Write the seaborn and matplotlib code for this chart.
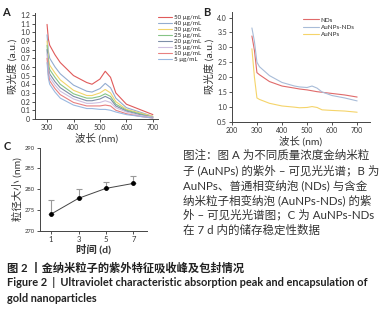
import matplotlib
matplotlib.use("Agg")
import matplotlib.pyplot as plt
import seaborn as sns
import pandas as pd

sns.set_theme(style="ticks")
plt.rcParams['font.family'] = ['Lato', 'Noto Sans CJK SC', 'DejaVu Sans']
plt.rcParams['axes.unicode_minus'] = False

# panel A: UV-vis of AuNPs at different concentrations
wl_a = [300, 305, 310, 330, 350, 400, 450, 470, 500, 520, 540, 560, 600, 650, 700]
conc_labels = ["50 μg/mL", "40 μg/mL", "30 μg/mL", "25 μg/mL",
               "20 μg/mL", "15 μg/mL", "10 μg/mL", "5 μg/mL"]
abs_50 = [1.09, 0.92, 0.85, 0.74, 0.65, 0.50, 0.42, 0.40, 0.46, 0.55, 0.48, 0.30, 0.17, 0.11, 0.05]
abs_40 = [0.97, 0.78, 0.70, 0.60, 0.52, 0.39, 0.32, 0.31, 0.35, 0.41, 0.36, 0.24, 0.13, 0.08, 0.03]
abs_30 = [0.90, 0.70, 0.62, 0.53, 0.45, 0.33, 0.27, 0.27, 0.30, 0.34, 0.30, 0.20, 0.11, 0.07, 0.03]
abs_25 = [0.85, 0.64, 0.57, 0.48, 0.40, 0.29, 0.24, 0.24, 0.26, 0.29, 0.26, 0.17, 0.10, 0.06, 0.02]
abs_20 = [0.80, 0.59, 0.52, 0.43, 0.36, 0.26, 0.21, 0.21, 0.23, 0.26, 0.23, 0.15, 0.09, 0.05, 0.02]
abs_15 = [0.75, 0.55, 0.48, 0.39, 0.32, 0.23, 0.18, 0.18, 0.19, 0.21, 0.19, 0.13, 0.08, 0.04, 0.02]
abs_10 = [0.70, 0.51, 0.44, 0.35, 0.28, 0.19, 0.15, 0.15, 0.15, 0.16, 0.15, 0.10, 0.06, 0.03, 0.01]
abs_5 = [0.65, 0.47, 0.40, 0.31, 0.24, 0.16, 0.12, 0.12, 0.11, 0.11, 0.10, 0.08, 0.05, 0.03, 0.01]
colors_a = ["#e05a5a", "#93acd0", "#f2d46a", "#86c486", "#7d8ea8", "#cdbfe0", "#e88080", "#9ab8e0"]

# panel B: NDs / AuNPs-NDs / AuNPs
wl_b = [280, 290, 300, 310, 350, 400, 450, 470, 500, 520, 540, 560, 600, 650, 700]
nds = [3.38, 2.90, 2.15, 2.08, 1.85, 1.70, 1.63, 1.60, 1.57, 1.54, 1.51, 1.49, 1.45, 1.40, 1.33]
aunps_nds = [3.65, 3.20, 2.50, 2.35, 2.05, 1.82, 1.70, 1.67, 1.65, 1.70, 1.63, 1.50, 1.38, 1.30, 1.20]
aunps = [2.95, 2.00, 1.30, 1.25, 1.12, 1.03, 0.99, 0.97, 0.98, 1.01, 0.98, 0.90, 0.88, 0.86, 0.82]
colors_b = ["#e06a6a", "#a8bcd8", "#f5d46a"]

# panel C: size stability over 7 days
days = [1, 3, 5, 7]
size_mean = [274.0, 277.8, 280.2, 281.4]
size_err = [3.4, 2.3, 1.5, 1.8]

fig = plt.figure(figsize=(3.82, 3.13), dpi=100)
tick_fs = 5
lab_fs = 7.5
txt_color = "#333333"

# ---- A
ax_a = fig.add_axes([0.092, 0.620, 0.322, 0.338])
series_a = [abs_50, abs_40, abs_30, abs_25, abs_20, abs_15, abs_10, abs_5]
rows = []
for lab, vals in zip(conc_labels, series_a):
    for w, v in zip(wl_a, vals):
        rows.append({"wl": w, "abs": v, "conc": lab})
df_a = pd.DataFrame(rows)
sns.lineplot(data=df_a, x="wl", y="abs", hue="conc", hue_order=conc_labels,
             palette=colors_a, linewidth=0.8, ax=ax_a)
ax_a.set_xlim(255, 720)
ax_a.set_ylim(0, 1.22)
ax_a.set_xticks([300, 400, 500, 600, 700])
ax_a.set_yticks([0, 0.1, 0.2, 0.3, 0.4, 0.5, 0.6, 0.7, 0.8, 0.9, 1.0, 1.1, 1.2])
ax_a.set_yticklabels(["0", "0.1", "0.2", "0.3", "0.4", "0.5", "0.6", "0.7", "0.8",
                      "0.9", "1.0", "1.1", "1.2"])
ax_a.set_xlabel("波长 (nm)", fontsize=lab_fs, labelpad=1.5, color=txt_color)
ax_a.set_ylabel("吸光度 (a.u.)", fontsize=lab_fs, labelpad=2, color=txt_color)
ax_a.legend(loc="upper left", bbox_to_anchor=(0.97, 1.02), frameon=False,
            fontsize=4.5, handlelength=2.2, handletextpad=0.3, labelspacing=0.1,
            borderpad=0.1)
ax_a.text(-0.27, 0.97, "A", transform=ax_a.transAxes, fontsize=8, fontweight="bold",
          color="#222222")

# ---- B
ax_b = fig.add_axes([0.607, 0.611, 0.362, 0.352])
df_b = pd.DataFrame({"wl": wl_b * 3,
                     "abs": nds + aunps_nds + aunps,
                     "group": ["NDs"] * len(wl_b) + ["AuNPs-NDs"] * len(wl_b) + ["AuNPs"] * len(wl_b)})
sns.lineplot(data=df_b, x="wl", y="abs", hue="group", hue_order=["NDs", "AuNPs-NDs", "AuNPs"],
             palette=colors_b, linewidth=0.8, ax=ax_b)
ax_b.set_xlim(200, 752)
ax_b.set_ylim(0.5, 4.2)
ax_b.set_xticks([200, 300, 400, 500, 600, 700])
ax_b.set_yticks([0.5, 1.0, 1.5, 2.0, 2.5, 3.0, 3.5, 4.0])
ax_b.set_xlabel("波长 (nm)", fontsize=lab_fs, labelpad=1.5, color=txt_color)
ax_b.set_ylabel("吸光度 (a.u.)", fontsize=lab_fs, labelpad=2, color=txt_color)
ax_b.legend(loc="upper right", bbox_to_anchor=(0.93, 1.0), frameon=False,
            fontsize=4.5, handlelength=2.6, handletextpad=0.3, labelspacing=0.3)
ax_b.text(-0.21, 0.96, "B", transform=ax_b.transAxes, fontsize=8, fontweight="bold",
          color="#222222")

# ---- C
ax_c = fig.add_axes([0.105, 0.263, 0.28, 0.265])
ax_c.errorbar(days, size_mean, yerr=[[0] * len(days), size_err], fmt="none",
              ecolor="#999999", elinewidth=0.8, capsize=2, capthick=0.8, zorder=1)
sns.lineplot(x=days, y=size_mean, color="#444444", linewidth=0.7, marker="o",
             markersize=3.5, markeredgewidth=0, markerfacecolor="black", ax=ax_c, zorder=3)
ax_c.set_xlim(0.2, 8)
ax_c.set_ylim(270, 290)
ax_c.set_xticks(days)
ax_c.set_yticks([270, 275, 280, 285, 290])
ax_c.set_xlabel("时间 (d)", fontsize=lab_fs, labelpad=1, color=txt_color, fontweight="bold")
ax_c.set_ylabel("粒径大小 (nm)", fontsize=lab_fs, labelpad=2, color=txt_color)
ax_c.text(-0.34, 0.97, "C", transform=ax_c.transAxes, fontsize=8, fontweight="bold",
          color="#222222")

for ax in (ax_a, ax_b, ax_c):
    sns.despine(ax=ax)
    ax.tick_params(labelsize=tick_fs, length=2, width=0.6, pad=1.5, colors=txt_color)
    for s in ax.spines.values():
        s.set_linewidth(0.7)
        s.set_color("#444444")
ax_c.tick_params(axis="y", labelsize=4.2)
ax_c.tick_params(axis="x", labelsize=5.5)

# caption text block
note_lines = [
    "图注：图 A 为不同质量浓度金纳米粒",
    "子 (AuNPs) 的紫外 – 可见光光谱；B 为",
    "AuNPs、普通相变纳泡 (NDs) 与含金",
    "纳米粒子相变纳泡 (AuNPs-NDs) 的紫",
    "外 – 可见光光谱图；C 为 AuNPs-NDs",
    "在 7 d 内的储存稳定性数据",
]
for i, line in enumerate(note_lines):
    fig.text(183 / 382, 1 - (155 + 15 * i) / 313, line, fontsize=8.3, color=txt_color,
             va="center", ha="left")

fig.text(7 / 382, 1 - 268 / 313, "图 2 丨金纳米粒子的紫外特征吸收峰及包封情况",
         fontsize=8.1, fontweight="bold", color="#222222", va="center")
fig.text(7 / 382, 1 - 283 / 313,
         "Figure 2  |  Ultraviolet characteristic absorption peak and encapsulation of",
         fontsize=7.9, fontweight="bold", color="#222222", va="center")
fig.text(7 / 382, 1 - 298 / 313, "gold nanoparticles",
         fontsize=7.9, fontweight="bold", color="#222222", va="center")

fig.savefig("out.png", dpi=100)
